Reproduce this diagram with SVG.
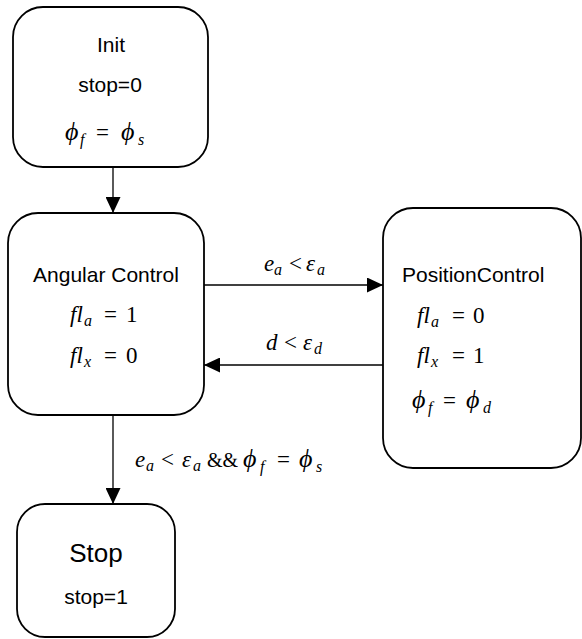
<svg xmlns="http://www.w3.org/2000/svg" width="582" height="639" viewBox="0 0 582 639">
<style>
.box{fill:#fff;stroke:#000;stroke-width:1.8}
.t{font-family:"Liberation Sans",Arial,sans-serif;font-size:21px;fill:#000}
.m{font-family:"Liberation Serif","DejaVu Serif",serif;font-size:23px;fill:#000}
.i{font-style:italic}
.p{font-style:italic;font-size:26px}
.s{font-style:italic;font-size:16px}
.c{stroke:#000;stroke-width:1.3;fill:none}
</style>
<defs>
<marker id="ah" markerUnits="userSpaceOnUse" markerWidth="16" markerHeight="15" refX="16" refY="7.5" orient="auto">
<path d="M0,0 L16,7.5 L0,15 z" fill="#000"/>
</marker>
</defs>
<rect width="582" height="639" fill="#fff"/>
<g id="connectors">
<line class="c" x1="113" y1="167" x2="113" y2="213" marker-end="url(#ah)"/>
<line class="c" x1="204" y1="285" x2="383" y2="285" marker-end="url(#ah)"/>
<line class="c" x1="383" y1="365" x2="204" y2="365" marker-end="url(#ah)"/>
<line class="c" x1="113" y1="415" x2="113" y2="504" marker-end="url(#ah)"/>
<text class="m"><tspan class="i" x="264" y="271">e</tspan><tspan class="s" x="274" y="275">a</tspan><tspan x="289" y="271">&lt;</tspan><tspan class="i" x="306" y="271">ε</tspan><tspan class="s" x="317" y="275">a</tspan></text>
<text class="m"><tspan class="i" x="266" y="350">d</tspan><tspan x="284" y="350">&lt;</tspan><tspan class="i" x="303" y="350">ε</tspan><tspan class="s" x="314" y="354">d</tspan></text>
<text class="m"><tspan class="i" x="135" y="467">e</tspan><tspan class="s" x="146" y="471">a</tspan><tspan x="161" y="467">&lt;</tspan><tspan class="i" x="182" y="467">ε</tspan><tspan class="s" x="193" y="471">a</tspan><tspan x="207" y="467" style="font-size:20px">&amp;&amp;</tspan><tspan class="p" x="243" y="467">ϕ</tspan><tspan class="s" x="260" y="472">f</tspan><tspan x="277" y="467">=</tspan><tspan class="p" x="299" y="467">ϕ</tspan><tspan class="s" x="316" y="472">s</tspan></text>
</g>
<g id="init">
<rect class="box" x="13" y="7" width="195" height="160" rx="30"/>
<text class="t" x="111" y="52" text-anchor="middle">Init</text>
<text class="t" x="110" y="92" text-anchor="middle">stop=0</text>
<text class="m"><tspan class="p" x="65" y="140">ϕ</tspan><tspan class="s" x="80" y="145">f</tspan><tspan x="96" y="140">=</tspan><tspan class="p" x="121" y="140">ϕ</tspan><tspan class="s" x="138" y="145">s</tspan></text>
</g>
<g id="angular">
<rect class="box" x="8" y="213" width="196" height="202" rx="30"/>
<text class="t" x="106" y="282" text-anchor="middle">Angular Control</text>
<text class="m"><tspan class="i" x="70" y="322">fl</tspan><tspan class="s" x="84" y="326">a</tspan><tspan x="104" y="322">=</tspan><tspan x="126" y="322">1</tspan></text>
<text class="m"><tspan class="i" x="70" y="363">fl</tspan><tspan class="s" x="84" y="367">x</tspan><tspan x="104" y="363">=</tspan><tspan x="126" y="363">0</tspan></text>
</g>
<g id="position">
<rect class="box" x="383" y="208" width="198" height="260" rx="30"/>
<text class="t" x="402" y="282">PositionControl</text>
<text class="m"><tspan class="i" x="417" y="323">fl</tspan><tspan class="s" x="431" y="327">a</tspan><tspan x="452" y="323">=</tspan><tspan x="473" y="323">0</tspan></text>
<text class="m"><tspan class="i" x="417" y="363">fl</tspan><tspan class="s" x="431" y="367">x</tspan><tspan x="452" y="363">=</tspan><tspan x="473" y="363">1</tspan></text>
<text class="m"><tspan class="p" x="412" y="408">ϕ</tspan><tspan class="s" x="428" y="413">f</tspan><tspan x="443" y="408">=</tspan><tspan class="p" x="466" y="408">ϕ</tspan><tspan class="s" x="483" y="413">d</tspan></text>
</g>
<g id="stop">
<rect class="box" x="17" y="504" width="158" height="133" rx="28"/>
<text class="t" x="96" y="562" text-anchor="middle" style="font-size:26px">Stop</text>
<text class="t" x="96" y="604" text-anchor="middle">stop=1</text>
</g>
</svg>
